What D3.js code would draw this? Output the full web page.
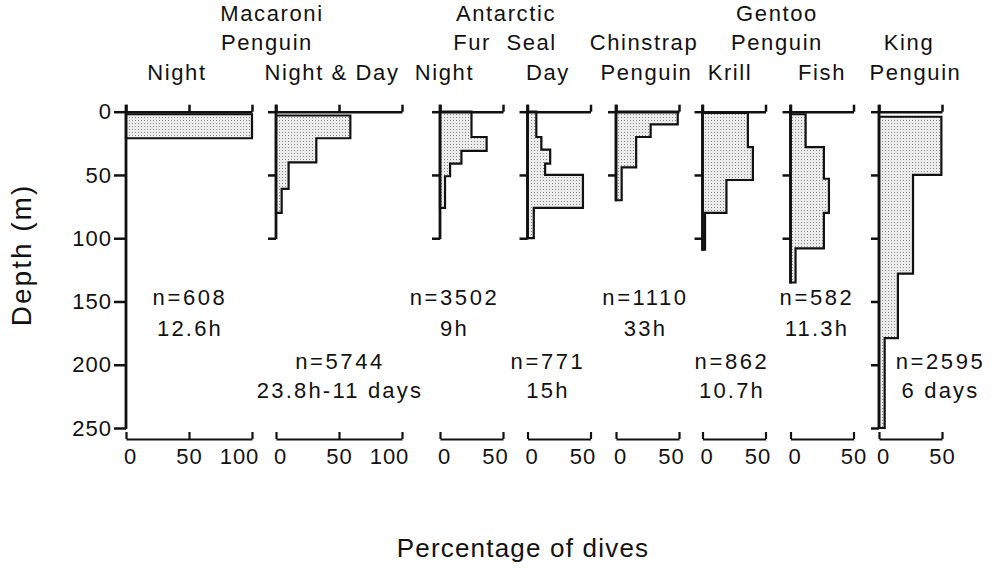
<!DOCTYPE html>
<html>
<head>
<meta charset="utf-8">
<script src="https://cdn.jsdelivr.net/npm/d3@7"></script>
<style>
body { margin: 0; background: #fff; }
text { font-family: "Liberation Sans", Arial, sans-serif; fill: #111; }
</style>
</head>
<body>
<script>
// ---- data ----
var depthTicks = [0, 50, 100, 150, 200, 250];
var panelNames = ["Night", "Night & Day", "Night", "Day", "Penguin", "Krill", "Fish", "Penguin"];
var pctMax = [100, 100, 50, 50, 50, 50, 50, 50];
var axisDepth = [250, 100, 100, 100, 70, 109, 135, 250];
var binEdges = [
  [2, 21],
  [3, 21, 40, 61, 80],
  [0, 20, 31, 41, 51, 76],
  [0, 20, 30, 41, 50, 76, 100],
  [0, 10, 20, 44, 70],
  [1, 28, 54, 80, 109],
  [2, 28, 53, 80, 108, 135],
  [4, 50, 128, 179, 250]
];
var binPct = [
  [100],
  [59, 32, 10, 4.5],
  [25, 37, 17, 8, 4],
  [7, 11, 18, 14, 44, 5],
  [49, 27.5, 16, 4.5],
  [36, 40, 19, 2],
  [12, 26.5, 30.5, 26.5, 4],
  [49.5, 27, 15, 4.5]
];
var nDives = ["n=608", "n=5744", "n=3502", "n=771", "n=1110", "n=862", "n=582", "n=2595"];
var durations = ["12.6h", "23.8h-11 days", "9h", "15h", "33h", "10.7h", "11.3h", "6 days"];
var groupRow1 = ["Macaroni", "Antarctic", "Gentoo"];
var groupRow2 = ["Penguin", "Fur  Seal", "Chinstrap", "Penguin", "King"];

// ---- layout ----
var width = 993, height = 571;
var pxPerPct = 1.26;
var panelX = [126, 276, 440, 527.5, 616, 702.5, 790.5, 879];
var headDx = [-12, -7, -27, -11, -1, -4, 0, 5];
var annoDx = [1, 1, -17, -11, -2, -2, -5, 30];
var row1X = [272, 506, 777];
var row2X = [267, 505, 644, 777, 909];

var svg = d3.select("body").append("svg")
    .attr("width", width)
    .attr("height", height);

var defs = svg.append("defs");
var pat = defs.append("pattern")
    .attr("id", "dots")
    .attr("width", 3).attr("height", 3)
    .attr("patternUnits", "userSpaceOnUse");
pat.append("rect").attr("width", 3).attr("height", 3).attr("fill", "#ececec");
pat.append("rect").attr("x", 0).attr("y", 0).attr("width", 1).attr("height", 1).attr("fill", "#8a8a8a");

var y = d3.scaleLinear().domain([0, 250]).range([111.7, 428]);

var line = d3.line().x(function(d) { return d.x; }).y(function(d) { return d.y; });

panelNames.forEach(function(name, i) {
  var x = d3.scaleLinear().domain([0, pctMax[i]])
      .range([panelX[i], panelX[i] + pctMax[i] * pxPerPct]);
  var g = svg.append("g");
  var xTicks = pctMax[i] == 100 ? [0, 50, 100] : [0, 50];

  // histogram outline
  var e = binEdges[i], v = binPct[i];
  var pts = [{x: x(0), y: y(e[0])}];
  v.forEach(function(p, k) {
    pts.push({x: x(p), y: y(e[k])});
    pts.push({x: x(p), y: y(e[k + 1])});
  });
  pts.push({x: x(0), y: y(e[e.length - 1])});
  g.append("path")
    .attr("d", line(pts) + "Z")
    .attr("fill", "url(#dots)")
    .attr("stroke", "#111")
    .attr("stroke-width", 2.2)
    .attr("stroke-linejoin", "miter");

  // vertical axis
  var yp = y.copy().domain([0, axisDepth[i]]).range([y(0), y(axisDepth[i])]);
  var vt = depthTicks.filter(function(t) { return t <= axisDepth[i]; });
  var ya = d3.axisLeft(yp).tickValues(vt).tickSizeOuter(0);
  if (i == 0) {
    ya.tickSize(12).tickPadding(2);
  } else {
    ya.tickSize(8).tickFormat("");
  }
  var yg = g.append("g").attr("transform", "translate(" + x(0) + ",0)").call(ya);
  yg.select(".domain").remove();
  yg.selectAll("line").attr("stroke", "#111").attr("stroke-width", 2.5);
  yg.selectAll("text")
    .style("font-size", "22px").style("letter-spacing", "1px")
    .attr("fill", "#111");
  g.append("line")
    .attr("x1", x(0)).attr("x2", x(0))
    .attr("y1", y(0) - 7).attr("y2", yp(axisDepth[i]) + 1)
    .attr("stroke", "#111").attr("stroke-width", 2.8);

  // top axis
  var ta = d3.axisTop(x).tickValues(xTicks).tickSize(7).tickSizeOuter(0).tickFormat("");
  var tg = g.append("g").attr("transform", "translate(0," + y(0) + ")").call(ta);
  tg.select(".domain").attr("stroke", "#111").attr("stroke-width", 2.5);
  tg.selectAll("line").attr("stroke", "#111").attr("stroke-width", 2.5);

  // bottom axis
  var ba = d3.axisBottom(x).tickValues(xTicks).tickSize(-7).tickSizeOuter(0).tickPadding(9);
  var bg = g.append("g").attr("transform", "translate(0,439)").call(ba);
  bg.select(".domain").attr("stroke", "#111").attr("stroke-width", 2.2);
  bg.selectAll("line").attr("stroke", "#111").attr("stroke-width", 2.2);
  bg.selectAll("text")
    .style("font-size", "22px").style("letter-spacing", "1px")
    .attr("fill", "#111")
    .attr("dx", function(d) {
      if (d == 0) return 4;
      if (d == 100) return -13;
      if (d == 50 && pctMax[i] == 50) return i >= 6 ? 0 : -8;
      return 0;
    });

  // panel header (row 3)
  var cx = (x(0) + x(pctMax[i])) / 2;
  svg.append("text")
    .attr("x", cx + headDx[i]).attr("y", 80)
    .attr("text-anchor", "middle")
    .style("font-size", "22px").style("letter-spacing", "1.6px")
    .text(name);

  // n and duration notes
  var upper = i % 2 == 0;
  svg.append("text")
    .attr("x", cx + annoDx[i]).attr("y", upper ? 305 : 369)
    .attr("text-anchor", "middle")
    .style("font-size", "22px").style("letter-spacing", "2.6px")
    .text(nDives[i]);
  svg.append("text")
    .attr("x", cx + annoDx[i]).attr("y", upper ? 336 : 398)
    .attr("text-anchor", "middle")
    .style("font-size", "22px").style("letter-spacing", "2.2px")
    .text(durations[i]);
});

// group headers
svg.selectAll(".row1").data(groupRow1).enter().append("text")
  .attr("x", function(d, k) { return row1X[k]; }).attr("y", 21)
  .attr("text-anchor", "middle")
  .style("font-size", "22px").style("letter-spacing", "1.6px")
  .style("white-space", "pre")
  .text(function(d) { return d; });
svg.selectAll(".row2").data(groupRow2).enter().append("text")
  .attr("x", function(d, k) { return row2X[k]; }).attr("y", 50)
  .attr("text-anchor", "middle")
  .style("font-size", "22px").style("letter-spacing", "1.6px")
  .style("white-space", "pre")
  .text(function(d) { return d; });

// axis titles
svg.append("text")
  .attr("transform", "translate(31,255) rotate(-90)")
  .attr("text-anchor", "middle")
  .style("font-size", "28px").style("letter-spacing", "2px")
  .text("Depth (m)");
svg.append("text")
  .attr("x", 523).attr("y", 557)
  .attr("text-anchor", "middle")
  .style("font-size", "26px").style("letter-spacing", "1.2px")
  .text("Percentage of dives");
</script>
</body>
</html>
